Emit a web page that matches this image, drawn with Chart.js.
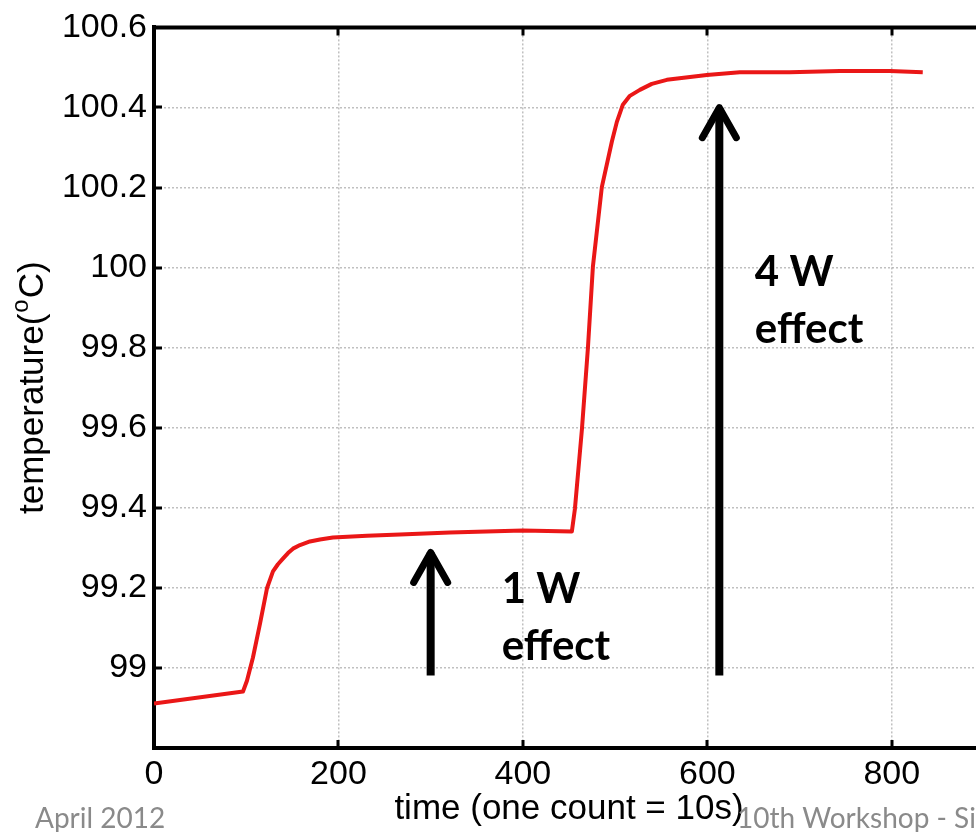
<!DOCTYPE html>
<html>
<head>
<meta charset="utf-8">
<title>temperature vs time</title>
<script src="https://cdn.jsdelivr.net/npm/chart.js@4.4.1/dist/chart.umd.min.js"></script>
<style>
  html, body { margin: 0; padding: 0; background: #fff; overflow: hidden; }
  #wrap { position: relative; width: 976px; height: 832px; overflow: hidden; }
  #chart { position: absolute; left: 0; top: 0; }
</style>
</head>
<body>
<div id="wrap">
  <canvas id="chart" width="1000" height="832"></canvas>
</div>
<script>
// ── measured trace (time in counts, temperature in °C) ──
const timeCounts = [0, 96.5, 100.8, 107.3, 114.9, 122.5, 129, 134.4, 139.8, 145.3,
                    150.7, 158.3, 169.1, 180, 194, 230.9, 266.7, 320.9, 400, 453.1,
                    456.4, 464, 470.5, 475.9, 485.6, 496.5, 501.9, 508.4, 516, 526.8,
                    539.8, 556.1, 599.5, 635.2, 689.4, 743.6, 797.8, 833.6];
const temperature = [98.911, 98.941, 98.968, 99.026, 99.110, 99.199, 99.241, 99.259, 99.273, 99.287,
                     99.298, 99.307, 99.316, 99.321, 99.326, 99.330, 99.333, 99.338, 99.343, 99.341,
                     99.397, 99.596, 99.799, 100.002, 100.201, 100.315, 100.364, 100.407, 100.429, 100.444,
                     100.459, 100.469, 100.481, 100.488, 100.488, 100.491, 100.491, 100.488];

// axis ticks
const xTicks = [0, 200, 400, 600, 800];
const yTicks = [98.8, 99, 99.2, 99.4, 99.6, 99.8, 100, 100.2, 100.4, 100.6];

// heating-power arrows (x position, base, tip) and their captions
const arrowAt   = [300, 613];
const arrowTail = [98.981, 98.981];
const arrowTip  = [99.296, 100.407];
const captions  = [['1 W', 'effect'], ['4 W', 'effect']];
const captionX  = [377, 651.5];
const captionY  = [99.162, 99.955];

const TICK_FONT = "'Liberation Sans', Arial, sans-serif";
const NOTE_FONT = "Lato, 'Open Sans', sans-serif";

const points = timeCounts.map((t, i) => ({ x: t, y: temperature[i] }));

// frame, inward ticks, arrows, labels and slide footer
const decorations = {
  id: 'decorations',
  afterDraw(chart) {
    const { ctx, chartArea: a, scales: { x, y } } = chart;
    ctx.save();

    // top / right spines
    ctx.strokeStyle = '#000';
    ctx.lineWidth = 4;
    ctx.beginPath();
    ctx.moveTo(a.left - 2, a.top);
    ctx.lineTo(a.right, a.top);
    ctx.lineTo(a.right, a.bottom);
    ctx.stroke();

    // inward tick marks on all four sides
    ctx.lineWidth = 3;
    const tl = 8;
    xTicks.forEach(v => {
      if (v === xTicks[0]) return;
      const px = Math.round(x.getPixelForValue(v));
      ctx.beginPath();
      ctx.moveTo(px, a.bottom); ctx.lineTo(px, a.bottom - tl);
      ctx.moveTo(px, a.top); ctx.lineTo(px, a.top + tl);
      ctx.stroke();
    });
    yTicks.forEach(v => {
      if (v === yTicks[0] || v === yTicks[yTicks.length - 1]) return;
      const py = Math.round(y.getPixelForValue(v));
      ctx.beginPath();
      ctx.moveTo(a.left, py); ctx.lineTo(a.left + tl, py);
      ctx.moveTo(a.right, py); ctx.lineTo(a.right - tl, py);
      ctx.stroke();
    });

    // arrows
    ctx.strokeStyle = '#000';
    arrowAt.forEach((t, i) => {
      const px = x.getPixelForValue(t);
      const yb = y.getPixelForValue(arrowTail[i]);
      const yt = y.getPixelForValue(arrowTip[i]);
      ctx.lineWidth = 8;
      ctx.lineCap = 'butt';
      ctx.beginPath();
      ctx.moveTo(px, yb); ctx.lineTo(px, yt + 3);
      ctx.stroke();
      ctx.lineCap = 'round';
      ctx.lineJoin = 'round';
      ctx.lineWidth = 7;
      ctx.beginPath();
      ctx.moveTo(px - 17, yt + 33);
      ctx.lineTo(px, yt + 3);
      ctx.lineTo(px + 17, yt + 33);
      ctx.stroke();
    });

    // captions
    ctx.fillStyle = '#000';
    ctx.font = 'bold 42px ' + NOTE_FONT;
    ctx.textAlign = 'left';
    ctx.textBaseline = 'alphabetic';
    captions.forEach((lines, i) => {
      const px = x.getPixelForValue(captionX[i]);
      const py = y.getPixelForValue(captionY[i]);
      lines.forEach((s, k) => ctx.fillText(s, px, py + k * 57));
    });

    // x axis title, centred on the plot
    ctx.font = '35px ' + TICK_FONT;
    ctx.textAlign = 'center';
    ctx.fillText('time (one count = 10s)', (a.left + a.right) / 2, 819);

    // y axis title with superscript o
    ctx.textAlign = 'left';
    const big = '35px ' + TICK_FONT, small = '24px ' + TICK_FONT;
    ctx.font = big;
    const w1 = ctx.measureText('temperature(').width;
    const w3 = ctx.measureText('C)').width;
    ctx.font = small;
    const w2 = ctx.measureText('o').width;
    const total = w1 + w2 + w3 + 2;
    ctx.save();
    ctx.translate(43, (a.top + a.bottom) / 2 + total / 2);
    ctx.rotate(-Math.PI / 2);
    ctx.font = big;
    ctx.fillText('temperature(', 0, 0);
    ctx.font = small;
    ctx.fillText('o', w1 + 1, -15);
    ctx.font = big;
    ctx.fillText('C)', w1 + w2 + 2, 0);
    ctx.restore();

    // slide footer
    ctx.fillStyle = '#8a8a8a';
    ctx.font = '28px ' + NOTE_FONT;
    ctx.fillText('April 2012', 35, 828);
    ctx.fillText('10th Workshop - Si', 737, 828);

    ctx.restore();
  }
};

const gridStyle = {
  color: 'rgba(140,140,140,0.55)',
  lineWidth: 1.5,
  drawTicks: false
};

new Chart(document.getElementById('chart'), {
  type: 'line',
  data: {
    datasets: [{
      data: points,
      borderColor: '#ea1717',
      borderWidth: 4,
      borderJoinStyle: 'round',
      pointRadius: 0,
      fill: false,
      tension: 0
    }]
  },
  options: {
    responsive: false,
    animation: false,
    devicePixelRatio: 1,
    layout: { padding: { left: 0, top: 22, right: 16, bottom: 0 } },
    plugins: {
      legend: { display: false },
      tooltip: { enabled: false }
    },
    scales: {
      x: {
        type: 'linear',
        min: 0,
        max: 900,
        afterFit: s => { s.height = 84; },
        afterBuildTicks: s => { s.ticks = xTicks.map(v => ({ value: v })); },
        grid: gridStyle,
        border: { display: true, color: '#000', width: 4, dash: [2, 2] },
        ticks: {
          padding: 6,
          color: '#000',
          maxRotation: 0,
          font: { family: TICK_FONT, size: 34 }
        }
      },
      y: {
        min: 98.8,
        max: 100.6,
        afterFit: s => { s.width = 154; },
        afterBuildTicks: s => { s.ticks = yTicks.map(v => ({ value: v })); },
        grid: gridStyle,
        border: { display: true, color: '#000', width: 4, dash: [2, 2] },
        ticks: {
          padding: 7,
          color: '#000',
          font: { family: TICK_FONT, size: 34 },
          callback: v => (v < 98.9 ? '' : String(Math.round(v * 10) / 10))
        }
      }
    }
  },
  plugins: [decorations]
});
</script>
</body>
</html>
